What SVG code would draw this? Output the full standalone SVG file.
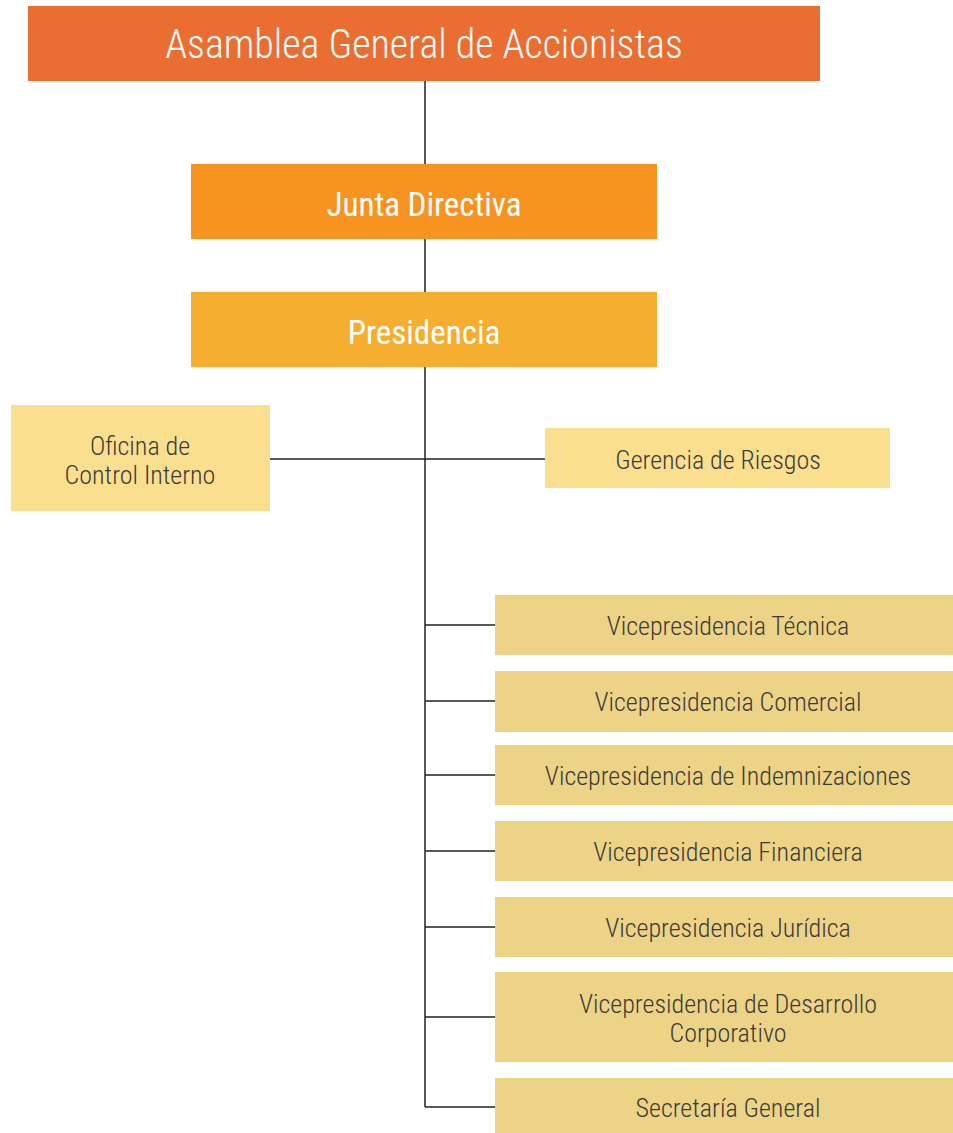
<svg xmlns="http://www.w3.org/2000/svg" width="953" height="1133" viewBox="0 0 953 1133">
<style>
.t{font-family:"Roboto Condensed","Liberation Sans Narrow","Liberation Sans",sans-serif;text-anchor:middle;dominant-baseline:central;font-weight:300}
.w{fill:#ffffff;font-weight:400}
.d{fill:#3b3b3b;font-size:26px}
.c{stroke:#222;stroke-width:1.5;fill:none}
.lt{fill:#fadf8e}
.vp{fill:#edd386}
</style>
<rect width="953" height="1133" fill="#fff"/>
<g id="connectors">
<path class="c" d="M425 81V164M425 239V292M425 367V1107M270 459H545M425 625H495M425 701H495M425 775H495M425 851H495M425 927H495M425 1017H495M425 1107H495"/>
</g>
<g id="asamblea"><rect x="28" y="6" width="792" height="75" fill="#ea6d32"/><text class="t w" x="424" y="44" font-size="40" style="font-weight:300">Asamblea General de Accionistas</text></g>
<g id="junta"><rect x="191" y="164" width="466" height="75" fill="#f79421"/><text class="t w" x="424" y="204" font-size="33">Junta Directiva</text></g>
<g id="presidencia"><rect x="191" y="292" width="466" height="75" fill="#f5ae2f"/><text class="t w" x="424" y="332" font-size="33">Presidencia</text></g>
<g id="oficina"><rect class="lt" x="11" y="405" width="259" height="106"/><text class="t d" x="140" y="446">Oficina de</text><text class="t d" x="140" y="475">Control Interno</text></g>
<g id="gerencia"><rect class="lt" x="545" y="428" width="345" height="60"/><text class="t d" x="718" y="460">Gerencia de Riesgos</text></g>
<g id="vp-tecnica"><rect class="vp" x="495" y="595" width="458" height="60"/><text class="t d" x="728" y="626">Vicepresidencia Técnica</text></g>
<g id="vp-comercial"><rect class="vp" x="495" y="671" width="458" height="61"/><text class="t d" x="728" y="702">Vicepresidencia Comercial</text></g>
<g id="vp-indemnizaciones"><rect class="vp" x="495" y="745" width="458" height="60"/><text class="t d" x="728" y="776">Vicepresidencia de Indemnizaciones</text></g>
<g id="vp-financiera"><rect class="vp" x="495" y="821" width="458" height="60"/><text class="t d" x="728" y="852">Vicepresidencia Financiera</text></g>
<g id="vp-juridica"><rect class="vp" x="495" y="897" width="458" height="60"/><text class="t d" x="728" y="928">Vicepresidencia Jurídica</text></g>
<g id="vp-desarrollo"><rect class="vp" x="495" y="972" width="458" height="90"/><text class="t d" x="728" y="1004">Vicepresidencia de Desarrollo</text><text class="t d" x="728" y="1033">Corporativo</text></g>
<g id="secretaria"><rect class="vp" x="495" y="1078" width="458" height="55"/><text class="t d" x="728" y="1108">Secretaría General</text></g>
</svg>
